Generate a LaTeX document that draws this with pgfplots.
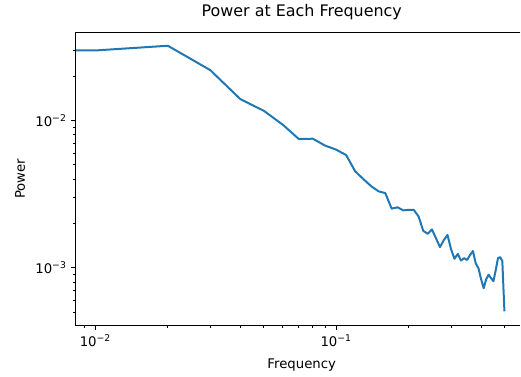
\documentclass[border=0pt]{standalone}
\usepackage{pgfplots}
\usepackage{pgfplotstable}
\pgfplotsset{compat=1.18}
\usepackage{fontspec}
\setmainfont{DejaVu Sans}
\definecolor{mplblue}{HTML}{1F77B4}

% Power spectrum: frequency vs. power (the DC bin lies off the log axis,
% so its segment is carried in from the far left at the first bin's level)
\pgfplotstableread{
f      p
0.0001 0.02982
0.01   0.02982
0.02   0.03210
0.03   0.02193
0.04   0.01394
0.05   0.01163
0.06   0.00935
0.07   0.00747
0.08   0.00751
0.09   0.00674
0.10   0.00633
0.11   0.00582
0.12   0.00451
0.13   0.00398
0.14   0.00357
0.15   0.00330
0.16   0.00321
0.17   0.00252
0.18   0.00257
0.19   0.00245
0.20   0.00247
0.21   0.00247
0.22   0.00223
0.23   0.00178
0.24   0.00170
0.25   0.00182
0.26   0.00158
0.27   0.00138
0.28   0.00154
0.29   0.00167
0.30   0.00134
0.31   0.00115
0.32   0.00124
0.33   0.00112
0.34   0.00116
0.35   0.00113
0.36   0.00122
0.37   0.00130
0.38   0.00107
0.39   0.000992
0.40   0.000836
0.41   0.000726
0.42   0.000836
0.43   0.000897
0.44   0.000849
0.45   0.000810
0.46   0.000962
0.47   0.00116
0.48   0.00118
0.49   0.00111
0.50   0.000505
}\spectrum

\begin{document}
\begin{tikzpicture}
\begin{axis}[
  name=ax,
  scale only axis,
  width=333.75bp, height=219.75bp,
  xmode=log, ymode=log,
  xmin=0.0083, xmax=0.5829,
  ymin=4.075e-4, ymax=0.0395,
  axis line style={draw=none},
  tick align=outside, tick pos=left,
  major tick length=3.5bp, minor tick length=2bp,
  every tick/.style={black, line width=0.8bp},
  every minor tick/.append style={line width=0.6bp},
  xtick={0.01,0.1},
  xticklabels={10\textsuperscript{−2},10\textsuperscript{−1}},
  minor xtick={0.009,0.02,0.03,0.04,0.05,0.06,0.07,0.08,0.09,0.2,0.3,0.4,0.5},
  ytick={0.001,0.01},
  yticklabels={10\textsuperscript{−3},10\textsuperscript{−2}},
  minor ytick={0.0005,0.0006,0.0007,0.0008,0.0009,0.002,0.003,0.004,0.005,0.006,0.007,0.008,0.009,0.02,0.03},
  ticklabel style={font=\fontsize{10}{12}\selectfont},
  title={Power at Each Frequency},
  title style={at={(axis description cs:0.508,1)}, anchor=base, yshift=6bp,
    font=\fontsize{12}{14}\selectfont},
  xlabel={Frequency},
  xlabel style={at={(axis description cs:0.508,0)}, anchor=base, yshift=-32.6bp,
    font=\fontsize{10}{12}\selectfont},
  ylabel={Power},
  ylabel style={at={(axis description cs:-0.1146,0.5)}, anchor=base,
    font=\fontsize{10}{12}\selectfont},
]
\addplot[mplblue, line width=1.5bp, line join=round] table[x=f, y=p] {\spectrum};
\end{axis}
% spines: left, bottom and top (the right one falls outside the frame)
\draw[black, line width=0.8bp] (ax.north east) -- (ax.north west) -- (ax.south west) -- (ax.south east);
\path ([xshift=-57bp,yshift=-38.25bp]ax.south west) rectangle ([yshift=22.5bp]ax.north east);
\end{tikzpicture}
\end{document}
